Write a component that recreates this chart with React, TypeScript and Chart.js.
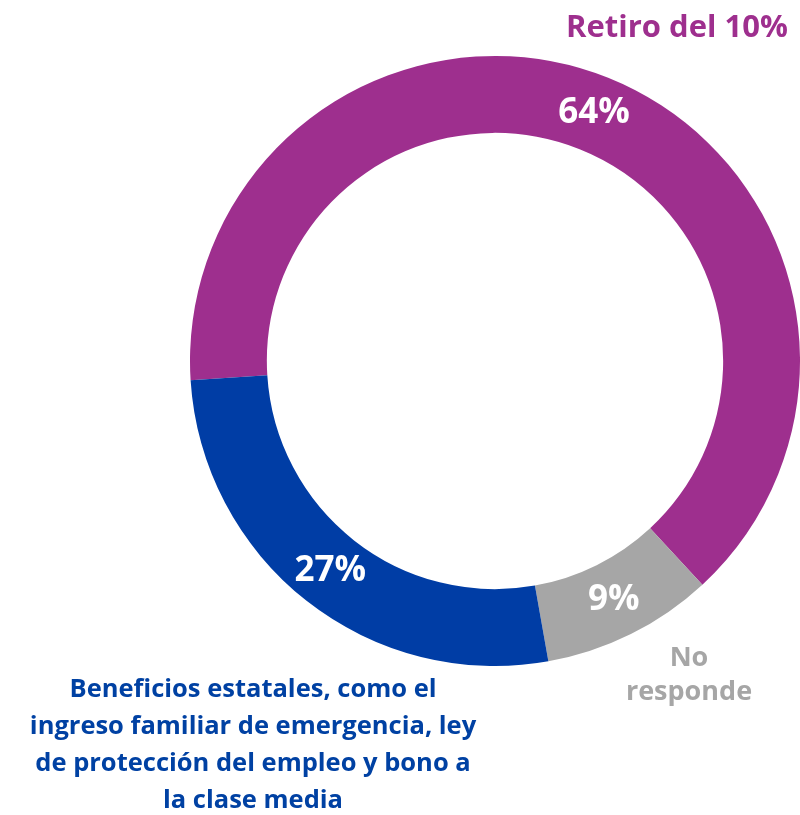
import React, { useEffect, useRef } from "react";
import { Chart, registerables } from "chart.js";

Chart.register(...registerables);

const categories = ["Retiro del 10%", "No responde", "Beneficios estatales"];
const values = [64.1, 9.1, 26.8];
const colors = ["#9E2F8E", "#A6A6A6", "#003DA5"];
const magentaLabel = ["Retiro del 10%"];
const grayLabel = ["No", "responde"];
const blueLabel = [
  "Beneficios estatales, como el",
  "ingreso familiar de emergencia, ley",
  "de protección del empleo y bono a",
  "la clase media",
];

const FONT = "'Open Sans', Lato, sans-serif";

const labelPlugin = {
  id: "labels",
  afterDatasetsDraw(chart: any) {
    const ctx = chart.ctx;
    const meta = chart.getDatasetMeta(0);
    ctx.save();
    ctx.fillStyle = "#FFFFFF";
    ctx.textAlign = "center";
    ctx.textBaseline = "middle";
    ctx.font = `bold 35px ${FONT}`;
    meta.data.forEach((arc: any, i: number) => {
      const p = arc.tooltipPosition();
      ctx.fillText(`${Math.round(values[i])}%`, p.x, p.y);
    });

    ctx.textBaseline = "alphabetic";
    // magenta label
    ctx.fillStyle = colors[0];
    ctx.font = `bold 31px ${FONT}`;
    ctx.textAlign = "center";
    magentaLabel.forEach((t, k) => ctx.fillText(t, 677, 37 + k * 36));
    // gray label
    ctx.fillStyle = colors[1];
    ctx.font = `bold 27px ${FONT}`;
    grayLabel.forEach((t, k) => ctx.fillText(t, 689, 666 + k * 34));
    // blue label
    ctx.fillStyle = "#0041A3";
    ctx.font = `bold 25.5px ${FONT}`;
    blueLabel.forEach((t, k) => ctx.fillText(t, 253, 697 + k * 37));
    ctx.restore();
  },
};

export default function App() {
  const ref = useRef<HTMLCanvasElement | null>(null);
  useEffect(() => {
    document.body.style.margin = "0";
    const chart = new Chart(ref.current as HTMLCanvasElement, {
      type: "doughnut",
      data: {
        labels: categories,
        datasets: [
          {
            data: values,
            backgroundColor: colors,
            borderWidth: 0,
          },
        ],
      },
      options: {
        animation: false,
        responsive: false,
        cutout: "74.8%",
        rotation: 266.4,
        layout: { padding: { left: 190, right: 0, top: 56, bottom: 149 } },
        plugins: {
          legend: { display: false },
          tooltip: { enabled: false },
        },
      },
      plugins: [labelPlugin],
    });
    return () => chart.destroy();
  }, []);
  return (
    <div style={{ width: 800, height: 815, background: "#FFFFFF" }}>
      <canvas ref={ref} width={800} height={815} />
    </div>
  );
}
